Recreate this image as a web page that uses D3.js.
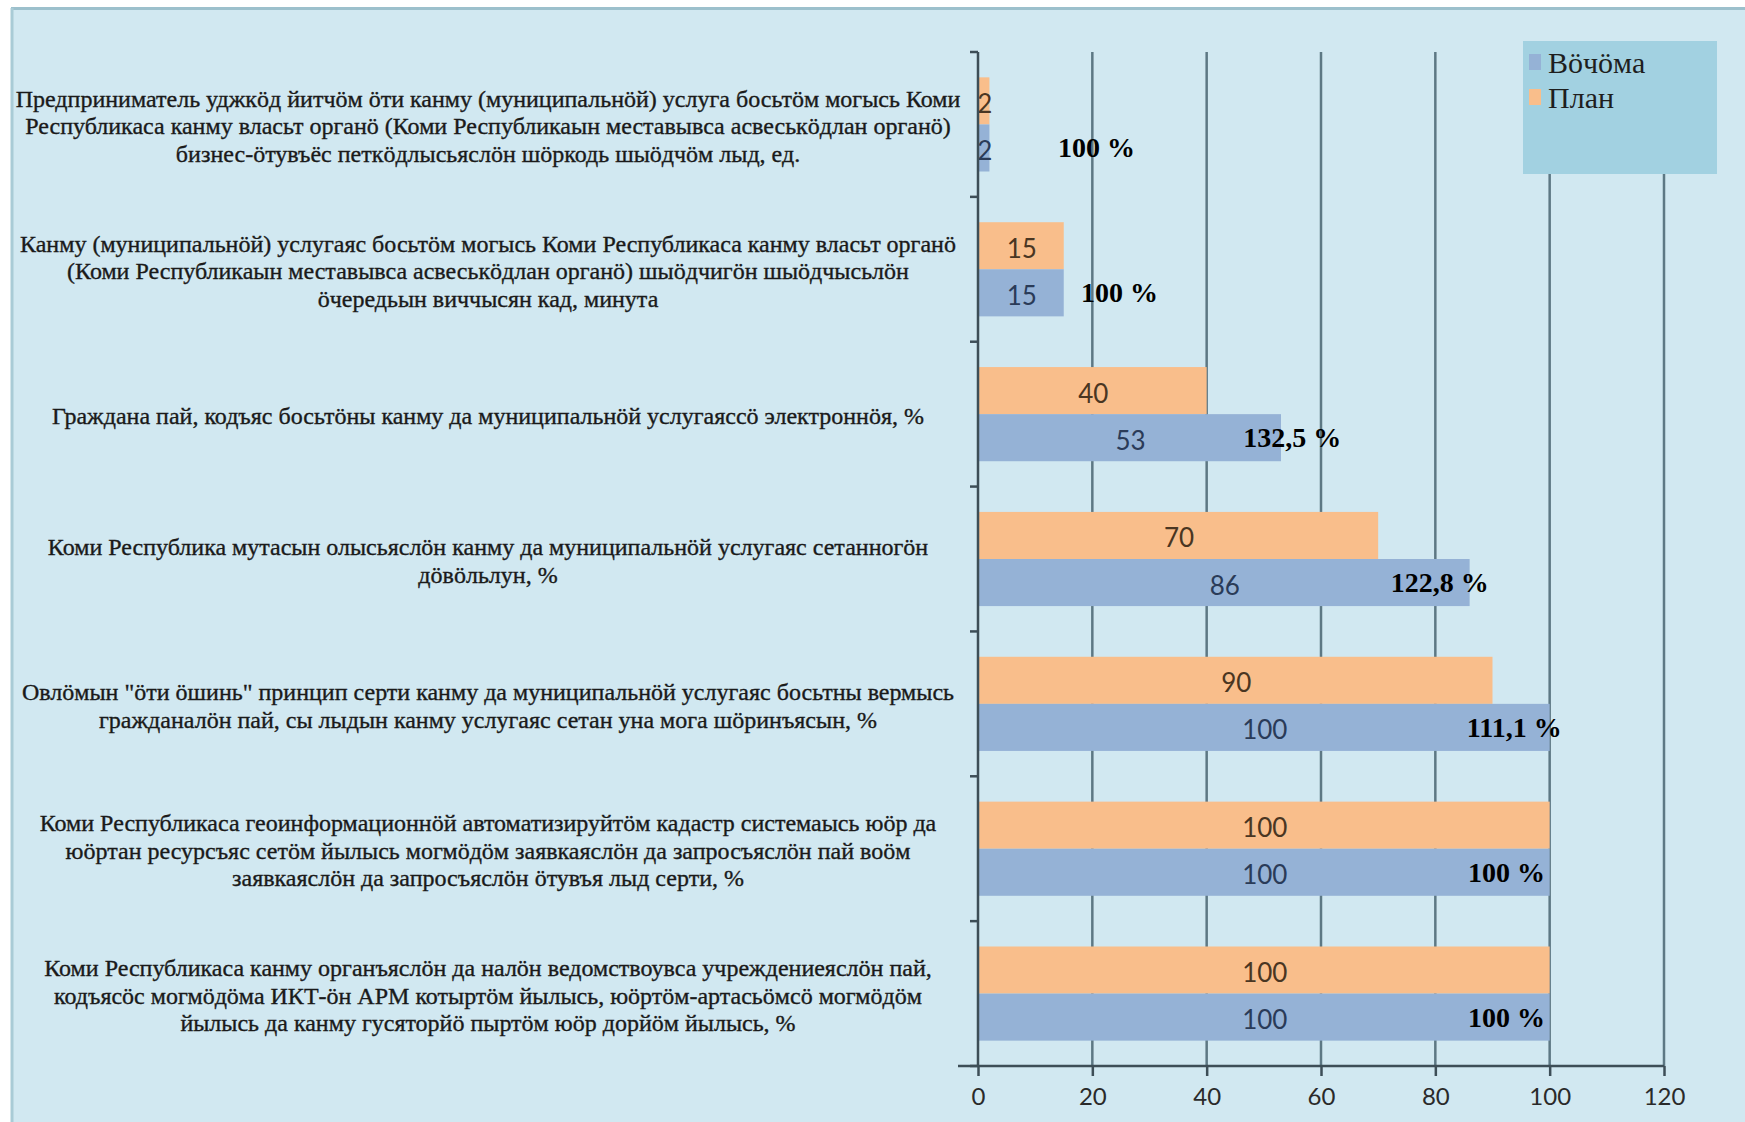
<!DOCTYPE html>
<html>
<head>
<meta charset="utf-8">
<script src="https://cdn.jsdelivr.net/npm/d3@7"></script>
<style>
  html, body { margin: 0; padding: 0; background: #ffffff; }
  svg { display: block; }
</style>
</head>
<body>
<script>
// ---------- DATA ----------
const categories = [
  ["Предприниматель уджкӧд йитчӧм ӧти канму (муниципальнӧй) услуга босьтӧм могысь Коми",
   "Республикаса  канму власьт органӧ (Коми Республикаын меставывса асвеськӧдлан органӧ)",
   "бизнес-ӧтувъёс петкӧдлысьяслӧн шӧркодь шыӧдчӧм лыд, ед."],
  ["Канму (муниципальнӧй) услугаяс босьтӧм могысь Коми Республикаса канму власьт органӧ",
   "(Коми Республикаын меставывса асвеськӧдлан органӧ) шыӧдчигӧн шыӧдчысьлӧн",
   "ӧчередьын виччысян кад, минута"],
  ["Граждана пай, кодъяс босьтӧны канму да муниципальнӧй услугаяссӧ электроннӧя, %"],
  ["Коми Республика мутасын олысьяслӧн канму да муниципальнӧй услугаяс сетанногӧн",
   "дӧвӧльлун, %"],
  ["Овлӧмын \"ӧти ӧшинь\" принцип серти канму да муниципальнӧй услугаяс босьтны вермысь",
   "гражданалӧн пай, сы лыдын канму услугаяс сетан уна мога шӧринъясын, %"],
  ["Коми Республикаса геоинформационнӧй автоматизируйтӧм кадастр системаысь юӧр да",
   "юӧртан ресурсъяс сетӧм йылысь могмӧдӧм заявкаяслӧн да запросъяслӧн пай воӧм",
   "заявкаяслӧн да запросъяслӧн ӧтувъя лыд серти, %"],
  ["Коми Республикаса канму органъяслӧн да налӧн ведомствоувса учреждениеяслӧн пай,",
   "кодъясӧс могмӧдӧма ИКТ-ӧн АРМ котыртӧм йылысь, юӧртӧм-артасьӧмсӧ могмӧдӧм",
   "йылысь да канму гусяторйӧ пыртӧм юӧр дорйӧм йылысь, %"]
];
const seriesNames = ["План", "Вӧчӧма"];
const planValues  = [2, 15, 40, 70, 90, 100, 100];
const factValues  = [2, 15, 53, 86, 100, 100, 100];
const percentLabels = ["100 %", "100 %", "132,5 %", "122,8 %", "111,1 %", "100 %", "100 %"];
// where each percent note starts, in axis units (manually placed notes in the original)
const percentAt = [14, 18, 46.4, 72.2, 85.5, 85.7, 85.7];
const xTicks = [0, 20, 40, 60, 80, 100, 120];
const legendNames = ["Вӧчӧма", "План"];

// ---------- STYLE ----------
const W = 1745, H = 1122;
const colors = { "План": "#f9be8b", "Вӧчӧма": "#95b2d6" };
const valueColors = { "План": "#4a3622", "Вӧчӧма": "#2a3b58" };

const svg = d3.select("body").append("svg").attr("width", W).attr("height", H);

// frame
svg.append("rect").attr("x", 11).attr("y", 8).attr("width", W - 11).attr("height", H - 8)
  .attr("fill", "#d1e8f1");
svg.append("line").attr("x1", 11).attr("x2", W).attr("y1", 8.5).attr("y2", 8.5)
  .attr("stroke", "#9cc0cc").attr("stroke-width", 3);
svg.append("line").attr("x1", 12).attr("x2", 12).attr("y1", 8).attr("y2", H)
  .attr("stroke", "#a9cbd6").attr("stroke-width", 3);

// scales
const x = d3.scaleLinear().domain([0, 120]).range([978, 1664]);
const y = d3.scaleBand().domain(d3.range(categories.length)).range([52, 1066])
  .paddingInner(0.35).paddingOuter(0.175);
const ySub = d3.scaleBand().domain(seriesNames).range([0, y.bandwidth()]);

// gridlines
svg.append("g").selectAll("line").data(xTicks.filter(d => d > 0)).join("line")
  .attr("x1", d => x(d)).attr("x2", d => x(d))
  .attr("y1", 52).attr("y2", 1066)
  .attr("stroke", "#5d7884").attr("stroke-width", 2.5);

// bars
const rows = categories.map((c, i) => ({ i, vals: { "План": planValues[i], "Вӧчӧма": factValues[i] } }));
const groups = svg.append("g").selectAll("g").data(rows).join("g")
  .attr("transform", d => `translate(0,${y(d.i)})`);
groups.selectAll("rect").data(d => seriesNames.map(s => ({ s, v: d.vals[s] }))).join("rect")
  .attr("x", x(0)).attr("y", d => ySub(d.s))
  .attr("width", d => x(d.v) - x(0)).attr("height", ySub.bandwidth())
  .attr("fill", d => colors[d.s]);
groups.selectAll("text.val").data(d => seriesNames.map(s => ({ s, v: d.vals[s] }))).join("text")
  .attr("class", "val")
  .attr("x", d => (x(d.v) + x(0)) / 2 + 1)
  .attr("y", d => ySub(d.s) + ySub.bandwidth() / 2 + 2)
  .attr("text-anchor", "middle").attr("dominant-baseline", "central")
  .attr("font-family", "Lato, 'Open Sans', sans-serif").attr("font-size", 26)
  .attr("fill", d => valueColors[d.s])
  .text(d => d.v);

// percent notes
svg.append("g").selectAll("text").data(percentLabels).join("text")
  .attr("x", (d, i) => x(percentAt[i]))
  .attr("y", (d, i) => y(i) + ySub("Вӧчӧма") + ySub.bandwidth() / 2)
  .attr("dominant-baseline", "central")
  .attr("font-family", "'Liberation Serif', 'Times New Roman', serif")
  .attr("font-weight", "bold").attr("font-size", 28).attr("fill", "#000")
  .text(d => d);

// left axis
const yEdges = d3.range(categories.length + 1).map(k => 52 + k * y.step());
svg.append("line").attr("x1", x(0)).attr("x2", x(0)).attr("y1", 52).attr("y2", 1066)
  .attr("stroke", "#3d4e57").attr("stroke-width", 2.5);
svg.append("g").selectAll("line").data(yEdges).join("line")
  .attr("x1", x(0) - 8).attr("x2", x(0)).attr("y1", d => d).attr("y2", d => d)
  .attr("stroke", "#3d4e57").attr("stroke-width", 2.5);

// bottom axis
const xAxis = svg.append("g").attr("transform", "translate(0,1066)")
  .call(d3.axisBottom(x).tickValues(xTicks).tickSize(10).tickPadding(12).tickSizeOuter(0));
xAxis.select(".domain").attr("stroke", "#3d4e57").attr("stroke-width", 2.5)
  .attr("d", `M${x(0) - 20},0H${x(120)}`);
xAxis.selectAll(".tick line").attr("stroke", "#3d4e57").attr("stroke-width", 2.5);
xAxis.selectAll(".tick text").attr("font-family", "Lato, 'Open Sans', sans-serif")
  .attr("font-size", 24).attr("fill", "#2a2a2a");

// category labels
const labelG = svg.append("g");
categories.forEach((lines, i) => {
  const cy = y(i) + y.bandwidth() / 2 + 2;
  const lh = 27.3;
  const t = labelG.append("text")
    .attr("text-anchor", "middle")
    .attr("font-family", "'Liberation Serif', 'Times New Roman', serif")
    .attr("font-size", 24).attr("fill", "#1a1a1a")
    .attr("stroke", "#1a1a1a").attr("stroke-width", 0.35);
  lines.forEach((ln, k) => {
    t.append("tspan").attr("x", 488)
      .attr("y", cy + (k - (lines.length - 1) / 2) * lh)
      .attr("dominant-baseline", "central")
      .text(ln);
  });
});

// legend
const lg = svg.append("g");
lg.append("rect").attr("x", 1523).attr("y", 41).attr("width", 194).attr("height", 133)
  .attr("fill", "#a2d1e1");
lg.selectAll("g").data(legendNames).join("g")
  .attr("transform", (d, i) => `translate(1529,${62 + i * 35})`)
  .each(function(d) {
    const g = d3.select(this);
    g.append("rect").attr("x", 0).attr("y", -8).attr("width", 12).attr("height", 16)
      .attr("fill", colors[d]);
    g.append("text").attr("x", 19).attr("y", 0).attr("dominant-baseline", "central")
      .attr("font-family", "'Liberation Serif', 'Times New Roman', serif")
      .attr("font-size", 30).attr("fill", "#1e1e1e").text(d);
  });
</script>
</body>
</html>
